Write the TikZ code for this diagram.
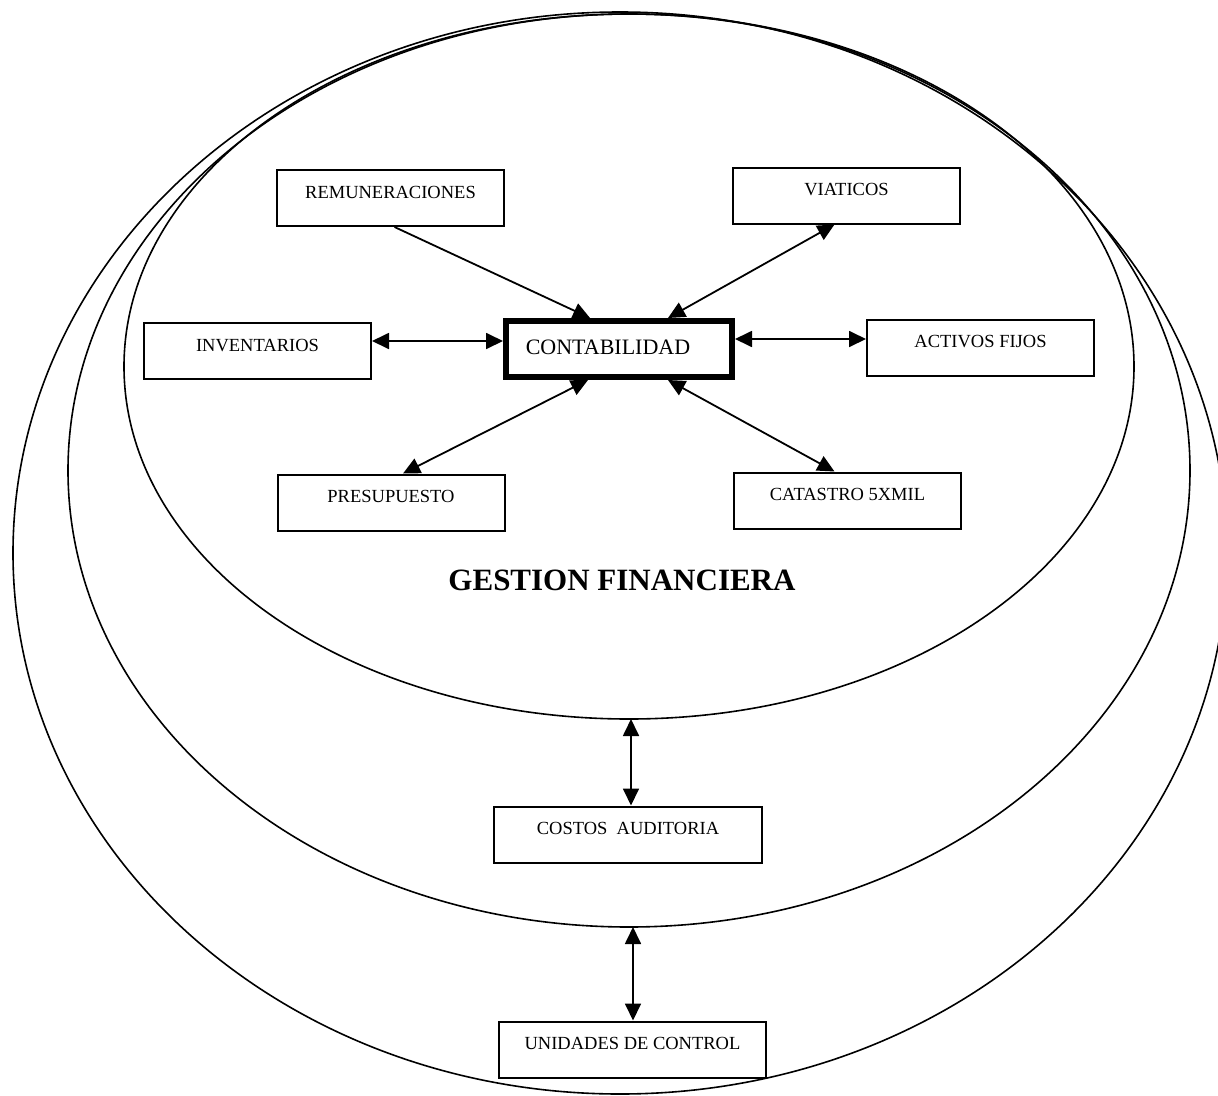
\documentclass[tikz,border=0pt]{standalone}
\usepackage{fontspec}
\setmainfont{Liberation Serif}
\usetikzlibrary{arrows.meta}
\begin{document}
\begin{tikzpicture}[x=1pt,y=-1pt,
  ring/.style={line width=1.6pt},
  unit/.style={draw, fill=white, line width=2pt, inner sep=0pt,
    minimum width=227pt, minimum height=56pt,
    text height=9pt, text depth=9pt,
    font=\fontsize{18.5}{20}\selectfont},
  tip/.tip={Triangle[length=17pt,width=16pt]},
  link/.style={line width=1.8pt, tip-tip},
  feed/.style={line width=1.8pt, -tip},
]
\useasboundingbox (0,0) rectangle (1218,1095);
\clip (0,0) rectangle (1218,1095);

% nested rings
\draw[ring] (620,553) ellipse [x radius=607pt, y radius=541pt];
\draw[ring] (629,470.5) ellipse [x radius=561pt, y radius=456.5pt];
\draw[ring] (629,366.5) ellipse [x radius=505pt, y radius=352.5pt];

% central unit
\node[draw, fill=white, line width=6pt, inner sep=0pt,
      minimum width=226pt, minimum height=56pt,
      text height=12pt, text depth=2pt,
      font=\fontsize{22}{24}\selectfont] (contab) at (619,349) {CONTABILIDAD\kern22pt};

% surrounding units
\node[unit] (remun)    at (390.5,198)   {REMUNERACIONES};
\node[unit] (invent)   at (257.5,351)   {INVENTARIOS};
\node[unit] (viat)     at (846.5,195.5) {VIATICOS};
\node[unit] (activos)  at (980.5,347.5) {ACTIVOS FIJOS};
\node[unit] (catastro) at (847.5,500.5) {CATASTRO 5XMIL};
\node[unit] (presup)   at (391,502.5)   {PRESUPUESTO};

\node[font=\fontsize{31}{34}\selectfont\bfseries] (gestion) at (622,580) {GESTION FINANCIERA};

\node[unit, minimum width=268pt] (costos)   at (628,834.5)  {COSTOS~~AUDITORIA};
\node[unit, minimum width=267pt] (unidades) at (632.5,1049.5) {UNIDADES DE CONTROL};

% ring bottoms
\coordinate (innerbot) at (631,719);
\coordinate (midbot)   at (633,927);

% connectors
\draw[feed] ([xshift=4pt]remun.south) -- ([xshift=-29pt]contab.north);
\draw[link] ([xshift=49pt]contab.north) -- ([xshift=-12pt]viat.south);
\draw[link] ([yshift=10pt]invent.east) -- ([yshift=10pt]invent.east -| contab.west);
\draw[link] ([yshift=10pt]contab.east) -- ([yshift=10pt]contab.east -| activos.west);
\draw[link] ([xshift=-31pt]contab.south) -- ([xshift=12pt]presup.north);
\draw[link] ([xshift=49pt]contab.south) -- ([xshift=-13pt]catastro.north);
\draw[link] (innerbot) -- (innerbot |- costos.north);
\draw[link] (midbot) -- (midbot |- unidades.north);
\end{tikzpicture}
\end{document}
